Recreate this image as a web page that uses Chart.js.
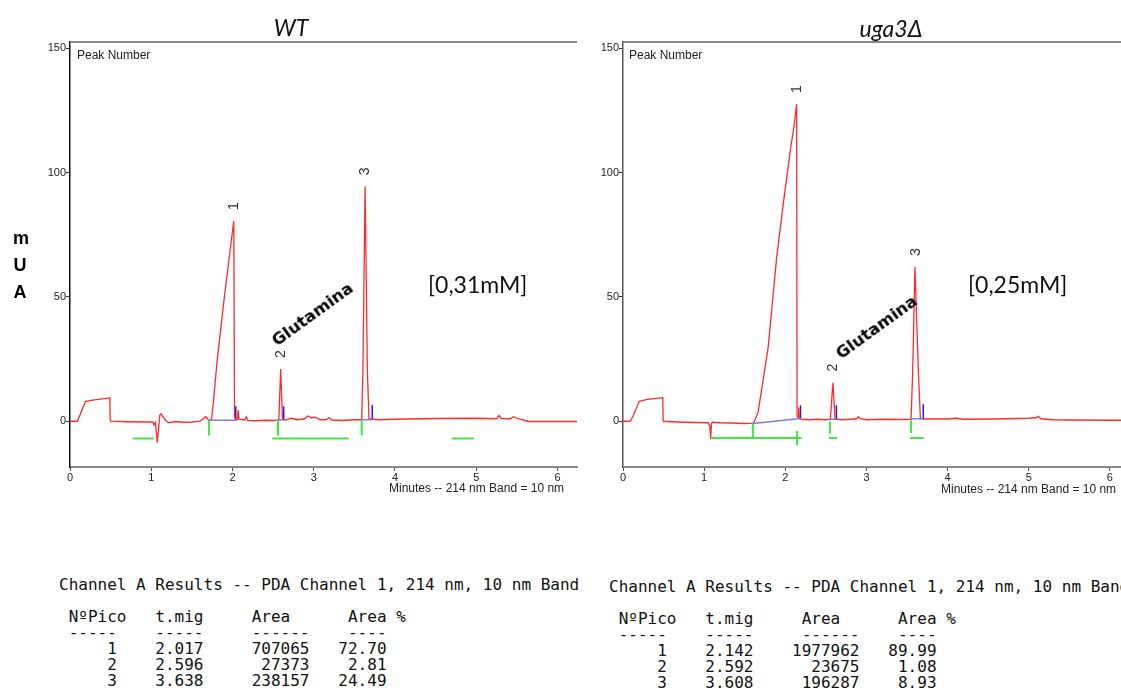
<!DOCTYPE html>
<html><head><meta charset="utf-8">
<script src="https://cdn.jsdelivr.net/npm/chart.js@4/dist/chart.umd.min.js"></script>
<style>
body{margin:0;background:#fff;width:1121px;height:688px;overflow:hidden;position:relative;font-family:"Liberation Sans",Arial,sans-serif;}
canvas{position:absolute;top:0;}
#c1{left:0px}
#c2{left:580px}
.t{position:absolute;white-space:pre;line-height:1;}
.title{font-family:Lato,"Open Sans",sans-serif;font-style:italic;font-size:23px;color:#111;transform:translate(-50%,-50%);}
.conc{font-family:Lato,"Open Sans",sans-serif;font-size:23px;color:#111;}
.glu{font-family:"DejaVu Sans",sans-serif;font-weight:bold;font-size:16.5px;color:#000;transform-origin:0 100%;transform:rotate(-36deg);}
.mua{font-family:"Liberation Sans",Arial,sans-serif;font-weight:bold;font-size:18px;color:#000;transform:translate(-50%,-50%);}
.small{font-size:12px;color:#222;}
pre.tab{position:absolute;margin:0;font-family:"DejaVu Sans Mono",monospace;font-size:16px;line-height:16px;color:#111;}
</style></head>
<body>
<canvas id="c1" width="580" height="500"></canvas>
<canvas id="c2" width="541" height="500"></canvas>

<div class="t title" style="left:291px;top:27px">WT</div>
<div class="t title" style="left:891px;top:28px">uga3Δ</div>
<div class="t mua" style="left:21px;top:238px">m</div>
<div class="t mua" style="left:20px;top:265px">U</div>
<div class="t mua" style="left:20px;top:292px">A</div>
<div class="t small" style="left:77px;top:49px">Peak Number</div>
<div class="t small" style="left:629px;top:49px">Peak Number</div>
<div class="t small" style="left:389px;top:482px">Minutes -- 214 nm Band = 10 nm</div>
<div class="t small" style="left:941px;top:483px">Minutes -- 214 nm Band = 10 nm</div>
<div class="t conc" style="left:428px;top:273px">[0,31mM]</div>
<div class="t conc" style="left:968px;top:273px">[0,25mM]</div>
<div class="t glu" style="left:279px;top:333px">Glutamina</div>
<div class="t glu" style="left:843px;top:346px">Glutamina</div>
<pre class="tab" id="tab1" style="left:59px;top:577px"></pre>
<pre class="tab" id="tab2" style="left:609px;top:579px"></pre>

<script>
// ---- axis ticks ----
const xTicks = [0, 1, 2, 3, 4, 5, 6];
const yTicks = [0, 50, 100, 150];

// ---- WT electropherogram (minutes, mUA) ----
const wtTime = [0,0.09,0.13,0.19,0.3, 0.45,0.49,0.495,0.5,0.7, 0.95,1.02,1.035,1.05,1.075, 1.09,1.105,1.12,1.15,1.18,
  1.22,1.3,1.4,1.5,1.6, 1.67,1.71,1.74,1.76,1.81, 1.9,2.0,2.016,2.025,2.035, 2.06,2.07,2.08,2.15,2.17,
  2.19,2.3,2.4,2.5,2.57, 2.593,2.615,2.65,2.72,2.8, 2.88,2.93,2.97,3.02,3.08, 3.15,3.19,3.22,3.35,3.5,
  3.59,3.605,3.632,3.66,3.68, 3.8,4.0,4.5,5.0,5.25, 5.28,5.31,5.42,5.46,5.5, 5.6,5.65,6.0,6.24];
const wtSignal = [0,0,3,8,8.6, 9.2,9.4,0.2,0,-0.2, -0.3,-0.3,-1.5,-0.5,-8.5, -3,2.5,3,1.5,0.2,
  -0.6,-0.1,-0.4,-0.3,0, 1.8,0.3,0.5,6,24, 50,76.5,80.5,2,0.5, 0.6,4.5,0.8,0.5,1.8,
  0.3,0.2,0.4,0.3,0.5, 21,0.8,0.5,1.2,0.6, 0.9,2.1,1.4,1.6,0.6, 0.6,1.5,0.5,0.3,0.6,
  0.6,20,94.5,20,1, 0.6,0.8,1.1,1.2,1, 2.3,1.1,1,1.8,1.2, 0.3,-0.1,-0.1,-0.1];
// integration baselines (blue), peak-end ticks (blue), event marks (green)
const wtBaseTime = [1.71,2.04,2.04, 2.57,2.63,2.63, 3.6,3.72];
const wtBaseVal  = [0.4,0.4,null, 0.5,0.5,null, 0.6,0.6];
const wtEndTime  = [2.04,2.04,2.04, 2.63,2.63,2.63, 3.72,3.72];
const wtEndVal   = [0.4,6,null, 0.5,6,null, 0.6,6.5];
const wtEventTime = [1.71,1.71,1.71, 2.56,2.56,2.56, 3.59,3.59,3.59, 0.77,1.03,1.03, 2.49,3.43,3.43, 4.7,4.97];
const wtEventVal  = [0.4,-5.7,null, 0.5,-5.7,null, 0.6,-5.7,null, -6.9,-6.9,null, -6.9,-6.9,null, -6.9,-6.9];
// results table WT
const wtPeakNo = [1, 2, 3];
const wtTMig = [2.017, 2.596, 3.638];
const wtArea = [707065, 27373, 238157];
const wtAreaPct = [72.70, 2.81, 24.49];
const wtPeakApex = [80.5, 21, 94.5];

// ---- uga3Δ electropherogram ----
const ugaTime = [0,0.09,0.13,0.2,0.3, 0.49,0.495,0.5,0.6,0.75, 0.9,1.05,1.07,1.08,1.09, 1.1,1.2,1.35,1.5,1.6,
  1.62,1.665,1.724,1.79,1.894, 1.985,2.067,2.1,2.14,2.145, 2.16,2.165,2.175,2.2,2.3, 2.4,2.5,2.555,2.587,2.613,
  2.7,2.8,2.88,2.9,2.93, 3.0,3.2,3.4,3.55,3.57, 3.598,3.64,3.665,3.7,4.0, 4.1,4.2,4.6,5.0,5.1, 5.12,5.15,5.3,5.5,6.0, 6.14];
const ugaSignal = [0,0,2.5,8,8.8, 9.5,0.3,0,-0.2,-0.4, -0.5,-0.6,-2,-7.2,-1, -0.4,-0.6,-0.7,-0.9,-0.8,
  0,3.7,16,30,66, 90,110,117,127.5,2, 1.5,5.5,1,0.8,0.6, 0.8,0.6,0.8,15.5,0.8,
  0.6,0.8,1,1.8,1, 0.6,0.8,0.7,0.8,20, 62,20,1,0.9,0.9, 1.2,0.8,0.9,1.2,1.5, 2,1,0.6,0.5,0.4, 0.4];
const ugaBaseTime = [1.6,2.187,2.187, 2.557,2.63,2.63, 3.557,3.7];
const ugaBaseVal  = [-0.9,1.1,null, 0.8,0.8,null, 1,1];
const ugaEndTime  = [2.187,2.187,2.187, 2.63,2.63,2.63, 3.7,3.7];
const ugaEndVal   = [1.1,6.4,null, 0.8,6.4,null, 1,6.8];
const ugaEventTime = [1.08,2.2,2.2, 1.6,1.6,1.6, 2.145,2.145,2.145, 2.55,2.55,2.55, 2.536,2.64,2.64, 3.55,3.55,3.55, 3.536,3.706];
const ugaEventVal  = [-6.7,-6.7,null, -0.9,-6.7,null, -3.9,-9.7,null, 0,-5,null, -6.7,-6.7,null, 0.4,-4.7,null, -6.7,-6.7];
// results table uga3Δ
const ugaPeakNo = [1, 2, 3];
const ugaTMig = [2.142, 2.592, 3.608];
const ugaArea = [1977962, 23675, 196287];
const ugaAreaPct = [89.99, 1.08, 8.93];
const ugaPeakApex = [127.5, 15.5, 62];

const pts = (t, v) => t.map((x, i) => ({x: x, y: v[i]}));

function tableText(no, tm, area, pct) {
  const lines = [
    'Channel A Results -- PDA Channel 1, 214 nm, 10 nm Band',
    '',
    ' NºPico   t.mig     Area      Area %',
    ' -----    -----     ------    ----'
  ];
  for (let i = 0; i < no.length; i++) {
    lines.push(String(no[i]).padStart(6) + '    ' + tm[i].toFixed(3) +
      String(area[i]).padStart(11) + pct[i].toFixed(2).padStart(8));
  }
  return lines.join('\n');
}
document.getElementById('tab1').textContent = tableText(wtPeakNo, wtTMig, wtArea, wtAreaPct);
document.getElementById('tab2').textContent = tableText(ugaPeakNo, ugaTMig, ugaArea, ugaAreaPct);

function makeChart(id, d) {
  const frame = {
    id: 'frame',
    afterDatasetsDraw(chart) {
      const ctx = chart.ctx, a = chart.chartArea;
      ctx.save();
      ctx.strokeStyle = '#888'; ctx.lineWidth = 2;
      ctx.beginPath(); ctx.moveTo(a.left, a.top); ctx.lineTo(a.right, a.top); ctx.stroke();
      // peak number labels
      const xs = chart.scales.x, ys = chart.scales.y;
      ctx.fillStyle = '#2a2f3a';
      ctx.font = '14px "Liberation Sans", Arial, sans-serif';
      ctx.textAlign = 'center'; ctx.textBaseline = 'middle';
      d.peakNo.forEach((n, i) => {
        const px = xs.getPixelForValue(d.tMig[i]);
        const py = ys.getPixelForValue(d.apex[i]) - 15;
        ctx.save(); ctx.translate(px, py); ctx.rotate(-Math.PI / 2);
        ctx.fillText(String(n), 0, 0); ctx.restore();
      });
      ctx.restore();
    }
  };
  const line = (data, color, w) => ({
    data: data, borderColor: color, borderWidth: w, pointRadius: 0, fill: false,
    tension: 0, spanGaps: false
  });
  return new Chart(document.getElementById(id), {
    type: 'line',
    data: {
      datasets: [
        line(pts(d.evT, d.evV), '#3ee83e', 2),
        line(pts(d.baseT, d.baseV), '#7a7aff', 1.5),
        line(pts(d.time, d.sig), '#ff2a2a', 1.3),
        line(pts(d.endT, d.endV), '#1a1aff', 1.5)
      ]
    },
    options: {
      responsive: false, animation: false, events: [],
      layout: {padding: {top: 42, left: d.padLeft, right: d.padRight, bottom: 0}},
      plugins: {legend: {display: false}, tooltip: {enabled: false}},
      scales: {
        x: {
          type: 'linear', min: 0, max: d.xmax,
          afterFit: s => { s.height = 33; },
          afterBuildTicks: s => { s.ticks = xTicks.map(v => ({value: v})); },
          grid: {display: true, drawOnChartArea: false, drawTicks: true, tickLength: 4, color: '#555', lineWidth: 1},
          border: {display: true, color: '#8a8a8a', width: 2},
          ticks: {color: '#222', font: {size: 11, family: '"Liberation Sans", Arial, sans-serif'}, padding: 0, maxRotation: 0, autoSkip: false}
        },
        y: {
          min: -18.4, max: 152.5,
          afterFit: s => { s.width = 30; },
          afterBuildTicks: s => { s.ticks = yTicks.map(v => ({value: v})); },
          grid: {display: true, drawOnChartArea: false, drawTicks: true, tickLength: 4, color: '#333', lineWidth: 1},
          border: {display: true, color: d.yAxisColor, width: 1.5},
          ticks: {color: '#222', font: {size: 11, family: '"Liberation Sans", Arial, sans-serif'}, padding: 0}
        }
      }
    },
    plugins: [frame]
  });
}

makeChart('c1', {
  time: wtTime, sig: wtSignal, baseT: wtBaseTime, baseV: wtBaseVal, endT: wtEndTime, endV: wtEndVal,
  evT: wtEventTime, evV: wtEventVal, peakNo: wtPeakNo, tMig: wtTMig, apex: wtPeakApex,
  xmax: 6.24, padLeft: 40, padRight: 3, yAxisColor: '#111'
});
makeChart('c2', {
  time: ugaTime, sig: ugaSignal, baseT: ugaBaseTime, baseV: ugaBaseVal, endT: ugaEndTime, endV: ugaEndVal,
  evT: ugaEventTime, evV: ugaEventVal, peakNo: ugaPeakNo, tMig: ugaTMig, apex: ugaPeakApex,
  xmax: 6.137, padLeft: 13, padRight: 0, yAxisColor: '#555'
});
</script>
</body></html>
